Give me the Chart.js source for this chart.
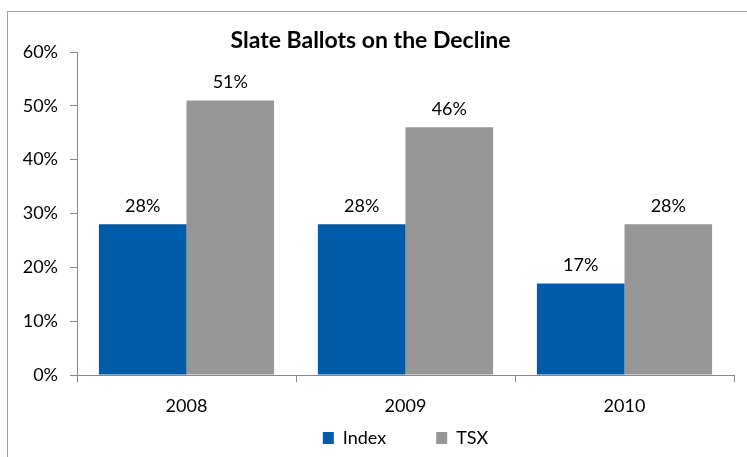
<!DOCTYPE html>
<html lang="en">
<head>
  <meta charset="UTF-8">
  <title>Slate Ballots on the Decline</title>
  <script src="https://cdn.jsdelivr.net/npm/chart.js"></script>
  <style>
    body { margin: 0; background: #fff; }
    .frame { position: absolute; left: 7px; top: 11px; width: 800px; height: 500px; border: 1px solid #a0a0a0; }
    .box { position: absolute; left: 0; top: 0; width: 747px; height: 457px; }
  </style>
</head>
<body>
  <div class="frame"></div>
  <div class="box"><canvas id="chart"></canvas></div>

<script>
    // chart data
    const years = ['2008', '2009', '2010'];
    const indexValues = [28, 28, 17];
    const tsxValues = [51, 46, 28];
    const yTicks = [0, 10, 20, 30, 40, 50, 60];

    const FONT = 'Lato, "Open Sans", sans-serif';
    const LEGEND_GAP = 50;   // horizontal gap between legend items
    const LEGEND_PAD = 12;   // vertical padding we actually want

    // draws the value above every bar
    const barLabels = {
        id: 'barLabels',
        afterDatasetsDraw(chart) {
            const ctx = chart.ctx;
            ctx.save();
            ctx.font = '18px ' + FONT;
            ctx.fillStyle = '#000';
            ctx.textAlign = 'center';
            ctx.textBaseline = 'alphabetic';
            chart.data.datasets.forEach((ds, i) => {
                chart.getDatasetMeta(i).data.forEach((bar, j) => {
                    ctx.fillText(ds.data[j] + '%', bar.x, bar.y - 12);
                });
            });
            ctx.restore();
        }
    };

    // legend padding is used both between items and above them,
    // so shrink the reserved height and move the box back up;
    // also center it under the plot area instead of the canvas
    const extra = LEGEND_GAP - LEGEND_PAD;
    const legendSpacing = {
        id: 'legendSpacing',
        beforeInit(chart) {
            const legend = chart.legend;
            const fit = legend.fit;
            legend.fit = function () {
                fit.call(this);
                this.height -= extra;
            };
        },
        afterLayout(chart) {
            const legend = chart.legend;
            const area = chart.chartArea;
            const shift = (area.left + area.right - legend.left - legend.right) / 2;
            legend.top -= extra;
            legend.left += shift;
            legend.right += shift;
        }
    };

    const ctx = document.getElementById('chart').getContext('2d');
    const myChart = new Chart(ctx, {
        type: 'bar',
        data: {
            labels: years,
            datasets: [{
                label: 'Index',
                data: indexValues,
                backgroundColor: '#005ba8',
                categoryPercentage: 0.8,
                barPercentage: 1.0
            },
            {
                label: 'TSX',
                data: tsxValues,
                backgroundColor: '#969696',
                categoryPercentage: 0.8,
                barPercentage: 1.0
            }]
        },
        options: {
            responsive: true,
            maintainAspectRatio: false,
            animation: false,
            layout: { padding: { left: 7, right: 13, top: 29, bottom: 0 } },
            scales: {
                x: {
                    offset: true,
                    afterFit: scale => { scale.height = 42; },
                    grid: { offset: true, drawOnChartArea: false, tickLength: 7, color: '#888' },
                    border: { color: '#888' },
                    ticks: { font: { family: FONT, size: 18 }, color: '#000', padding: 13 }
                },
                y: {
                    min: 0,
                    max: 60,
                    afterBuildTicks: scale => { scale.ticks = yTicks.map(v => ({ value: v })); },
                    afterFit: scale => { scale.width = 70; },
                    grid: { drawOnChartArea: false, tickLength: 7, color: '#888' },
                    border: { color: '#888' },
                    ticks: {
                        font: { family: FONT, size: 18 },
                        color: '#000',
                        padding: 12,
                        callback: v => v + '%'
                    }
                }
            },
            plugins: {
                title: {
                    display: true,
                    text: 'Slate Ballots on the Decline',
                    font: { family: FONT, size: 23, weight: 'bold', lineHeight: 1 },
                    color: '#000',
                    padding: { top: 0, bottom: 0 }
                },
                legend: {
                    position: 'bottom',
                    labels: {
                        font: { family: FONT, size: 18 },
                        color: '#000',
                        boxWidth: 11,
                        boxHeight: 12,
                        padding: LEGEND_GAP
                    }
                },
                tooltip: { enabled: false }
            }
        },
        plugins: [barLabels, legendSpacing]
    });
</script>
</body>
</html>
